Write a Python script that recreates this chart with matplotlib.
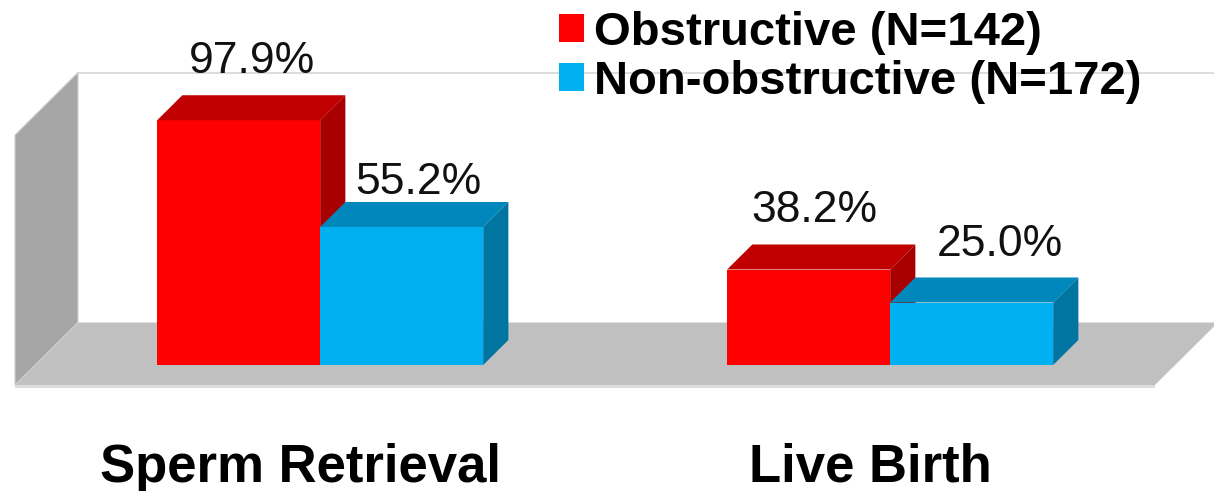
import matplotlib
matplotlib.use("Agg")
import matplotlib.pyplot as plt
from matplotlib.patches import Polygon, Patch

# ----------------------------
# Data
# ----------------------------
categories = ["Sperm Retrieval", "Live Birth"]
series_names = ["Obstructive (N=142)", "Non-obstructive (N=172)"]
obstructive = [97.9, 38.2]
non_obstructive = [55.2, 25.0]
values = [obstructive, non_obstructive]

# face colours per series: front, top, side
front_cols = ["#FF0000", "#00B0F0"]
top_cols = ["#C00000", "#0088BC"]
side_cols = ["#A80000", "#0075A2"]

# ----------------------------
# Pseudo-3D geometry (data units)
# ----------------------------
DX = 63 / 570      # depth shift in x (category units)
DY = 25.0          # depth shift in y (percent units)
WALL_TOP = 100.0
X0, X1 = -0.5, 1.5
BAR_W = 0.286
Z_FRONT, Z_BACK = 0.32, 0.72

# label nudges in pixels (dx, baseline gap above back top edge)
label_dx_px = [[1, -7], [4, 16]]
label_gap_px = [[22, 22], [8, 21]]

fig = plt.figure(figsize=(12.14, 4.91), dpi=100)
ax = fig.add_axes([0, 0, 1, 1])
ax.set_xlim(-300 / 570, 914 / 570)
ax.set_ylim(-106 / 2.5, 385 / 2.5)
ax.axis("off")


def shift(x, y, z):
    return (x + z * DX, y + z * DY)


def poly(pts, color, z=1, **kw):
    ax.add_patch(Polygon(pts, closed=True, facecolor=color, edgecolor=kw.pop("ec", "none"),
                         zorder=z, **kw))


# floor slab edge
poly([(X0, 0), (X1, 0), (X1, -1.3), (X0, -1.3)], "#DCDCDC", z=1)
# floor
poly([shift(X0, 0, 0), shift(X1, 0, 0), shift(X1, 0, 1), shift(X0, 0, 1)], "#C0C0C0", z=1)
# left wall
poly([shift(X0, 0, 0), shift(X0, 0, 1), shift(X0, WALL_TOP, 1), shift(X0, WALL_TOP, 0)],
     "#A6A6A6", z=2, ec="#D0D0D0", lw=0.8)
# back wall top edge
bx, by = shift(X0, WALL_TOP, 1)
ax.plot([bx, X1 + DX + 0.2], [by, by], color="#D6D6D6", lw=1.2, zorder=1.5)

# bars
for g, cat in enumerate(categories):
    for s in range(len(series_names)):
        v = values[s][g]
        xl = g - BAR_W + s * BAR_W
        xr = xl + BAR_W
        # front
        poly([shift(xl, 0, Z_FRONT), shift(xr, 0, Z_FRONT), shift(xr, v, Z_FRONT),
              shift(xl, v, Z_FRONT)], front_cols[s], z=3 + s)
        # top
        poly([shift(xl, v, Z_FRONT), shift(xr, v, Z_FRONT), shift(xr, v, Z_BACK),
              shift(xl, v, Z_BACK)], top_cols[s], z=3 + s)
        # side
        poly([shift(xr, 0, Z_FRONT), shift(xr, 0, Z_BACK), shift(xr, v, Z_BACK),
              shift(xr, v, Z_FRONT)], side_cols[s], z=3 + s)
        # value label
        zc = (Z_FRONT + Z_BACK) / 2
        lx, _ = shift((xl + xr) / 2, v, zc)
        _, ly = shift(xl, v, Z_BACK)
        ax.annotate(f"{v:.1f}%", xy=(lx, ly),
                    xytext=(label_dx_px[s][g] * 0.72, label_gap_px[s][g] * 0.72),
                    textcoords="offset points", ha="center", va="baseline",
                    fontsize=32, family="Liberation Sans", color="#111111", zorder=10)
    ax.text(g, -38.8, cat, ha="center", va="baseline", fontsize=38,
            family="Liberation Sans", fontweight="bold", color="black", zorder=10)

handles = [Patch(facecolor=front_cols[i], edgecolor="none") for i in range(len(series_names))]
ax.legend(handles, series_names, loc="upper left", bbox_to_anchor=(559 / 1214, 1 - 11 / 491),
          frameon=False, borderpad=0, borderaxespad=0, handlelength=0.52, handleheight=0.52,
          handletextpad=0.22, labelspacing=0.1,
          prop={"family": "Liberation Sans", "weight": "bold", "size": 34})

fig.savefig("out.png", dpi=100)
